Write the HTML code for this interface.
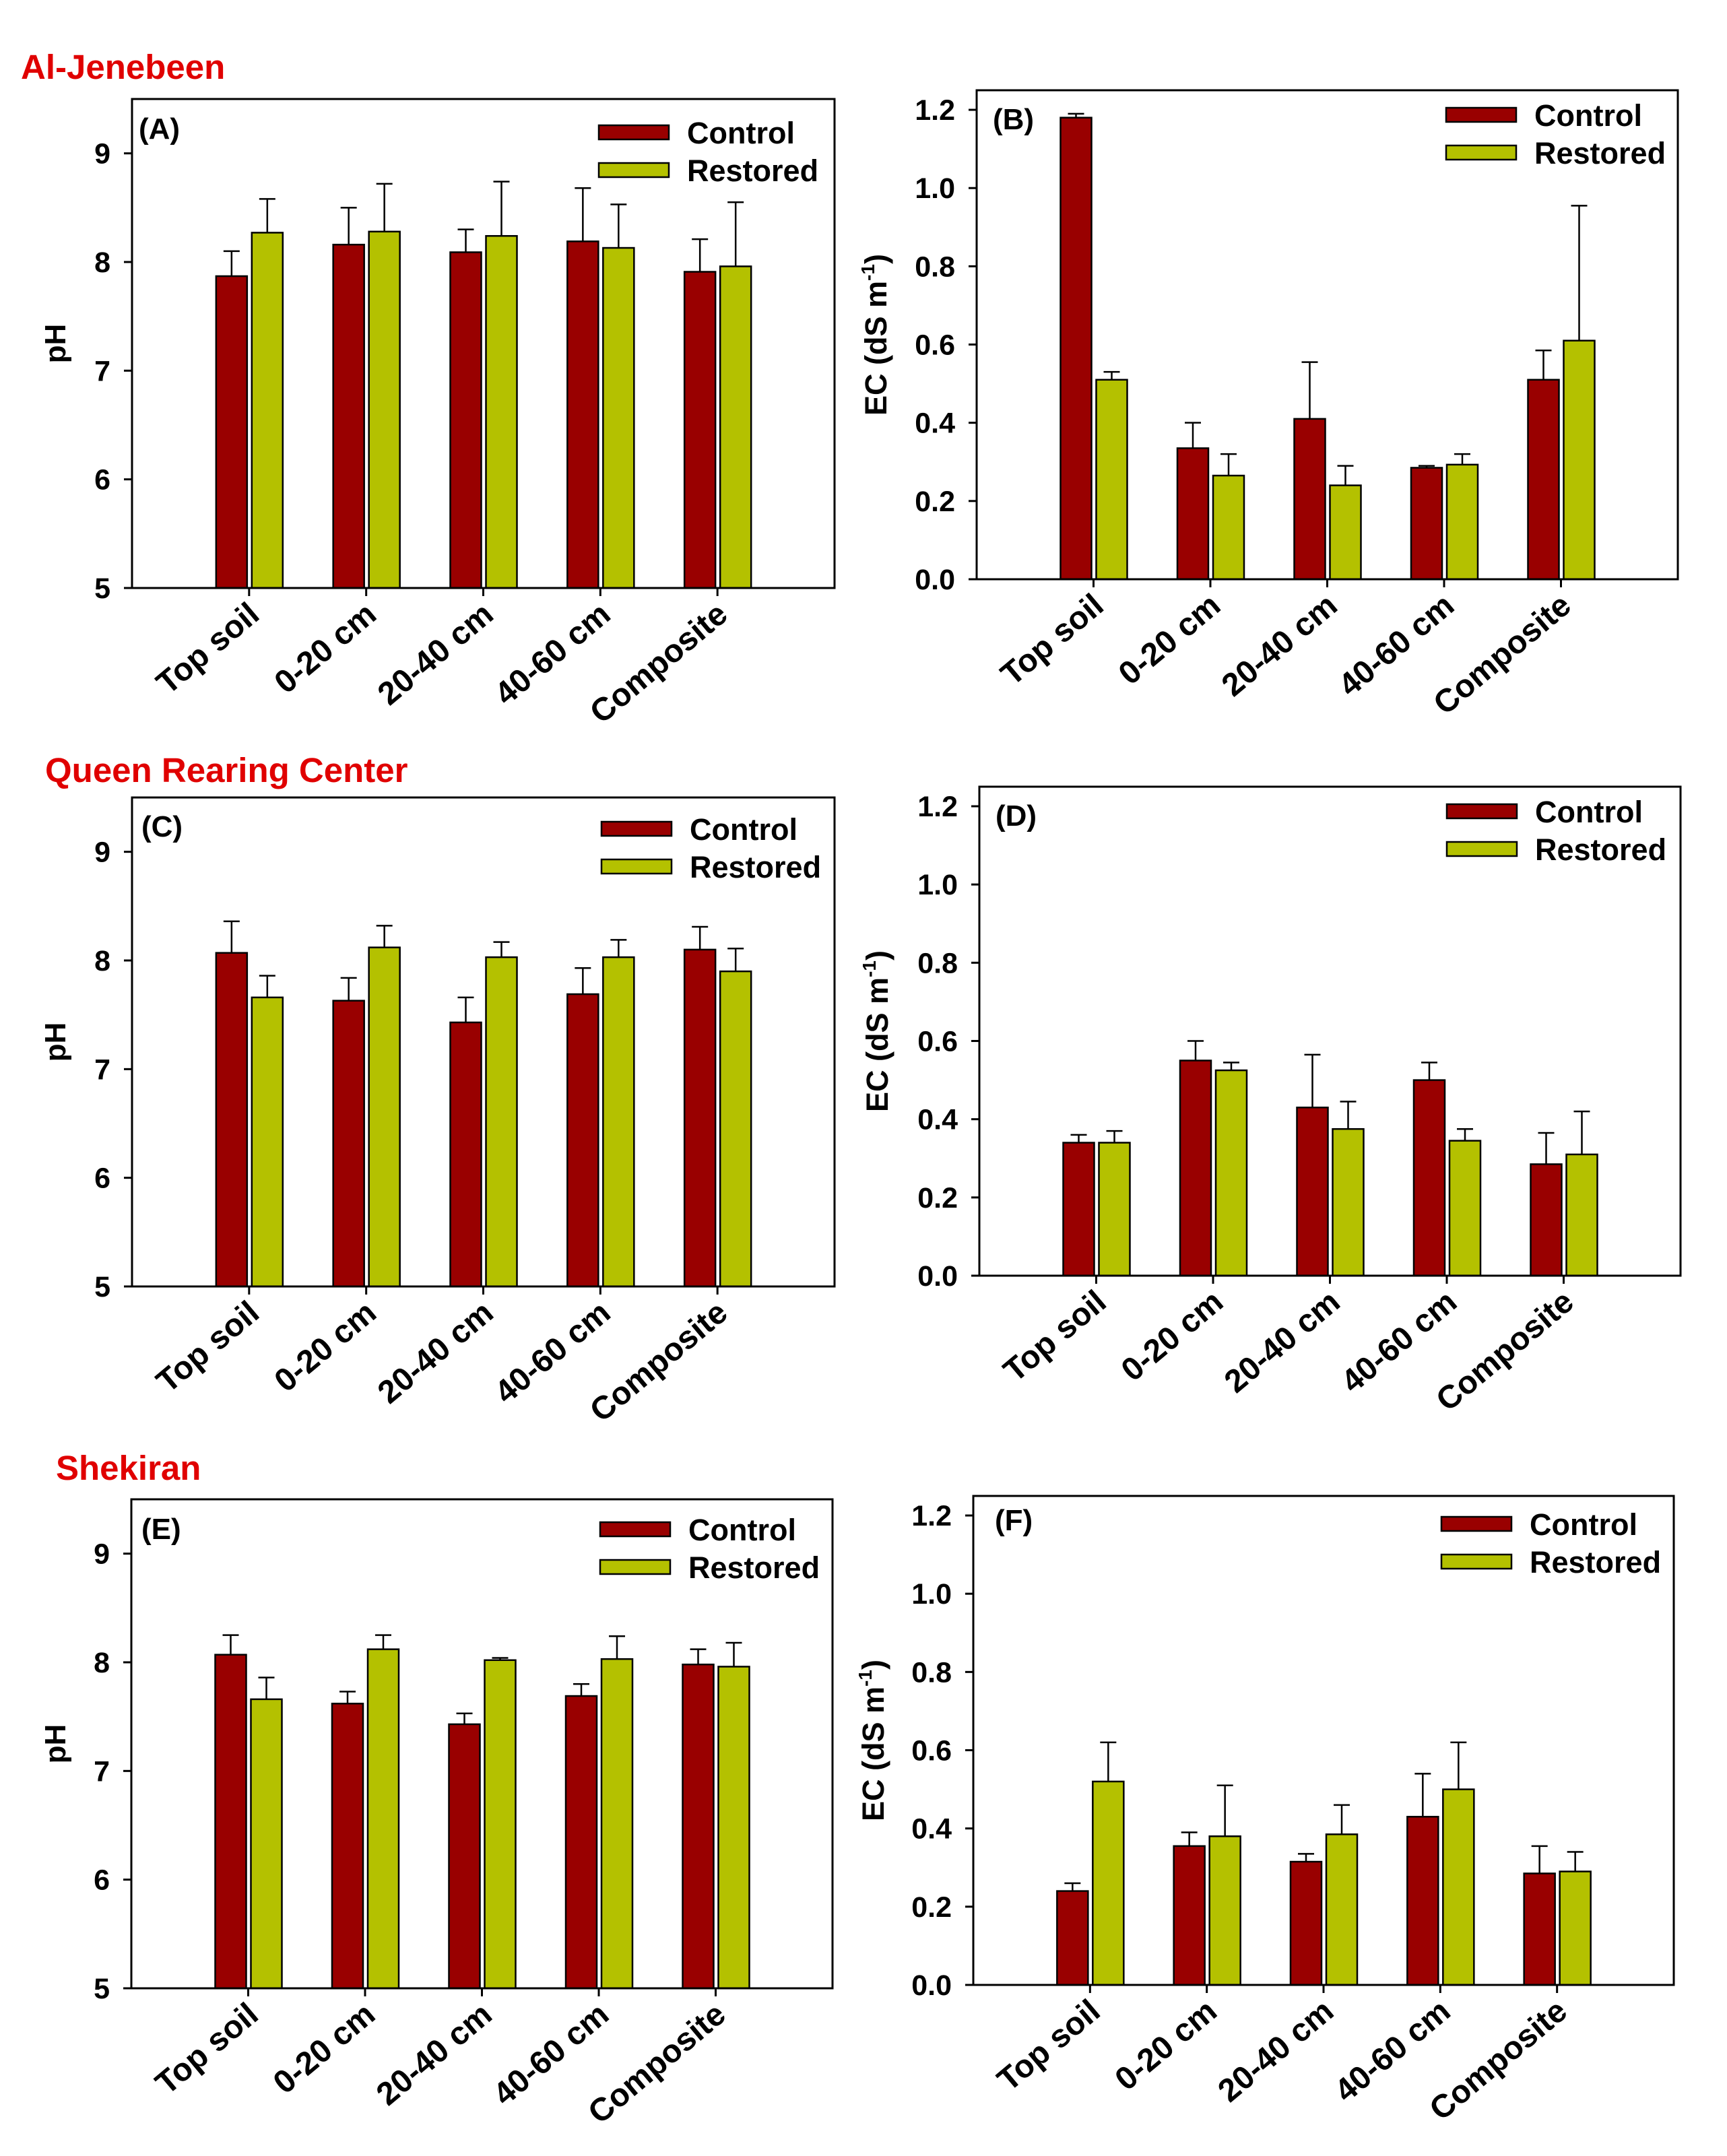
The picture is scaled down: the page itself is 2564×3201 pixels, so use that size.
<!DOCTYPE html>
<html><head><meta charset="utf-8"><style>
html,body{margin:0;padding:0;background:#fff}
svg{display:block}
text{font-family:"Liberation Sans",Arial,sans-serif;font-weight:bold}
</style></head><body>
<svg id="chart" width="2564" height="3201" viewBox="0 0 2564 3201" xmlns="http://www.w3.org/2000/svg">
<rect width="2564" height="3201" fill="#fff"/>
<text x="31" y="117" font-size="51" fill="#e00000">Al-Jenebeen</text>
<text x="67" y="1161" font-size="51" fill="#e00000">Queen Rearing Center</text>
<text x="83" y="2197" font-size="51" fill="#e00000">Shekiran</text>
</svg>
<script>
const categories = ["Top soil","0-20 cm","20-40 cm","40-60 cm","Composite"];
const phTicks = [5,6,7,8,9];
const ecTicks = ["0.0","0.2","0.4","0.6","0.8","1.0","1.2"];
// Panel A
const aControl = [7.87,8.16,8.09,8.19,7.91];
const aControlErr = [0.23,0.34,0.21,0.49,0.30];
const aRestored = [8.27,8.28,8.24,8.13,7.96];
const aRestoredErr = [0.31,0.44,0.50,0.40,0.59];
// Panel B
const bControl = [1.18,0.335,0.41,0.285,0.51];
const bControlErr = [0.01,0.065,0.145,0.005,0.075];
const bRestored = [0.51,0.265,0.24,0.293,0.61];
const bRestoredErr = [0.02,0.055,0.05,0.027,0.345];
// Panel C
const cControl = [8.07,7.63,7.43,7.69,8.10];
const cControlErr = [0.29,0.21,0.23,0.24,0.21];
const cRestored = [7.66,8.12,8.03,8.03,7.90];
const cRestoredErr = [0.20,0.20,0.14,0.16,0.21];
// Panel D
const dControl = [0.34,0.55,0.43,0.50,0.285];
const dControlErr = [0.02,0.05,0.135,0.045,0.08];
const dRestored = [0.34,0.525,0.375,0.345,0.31];
const dRestoredErr = [0.03,0.02,0.07,0.03,0.11];
// Panel E
const eControl = [8.07,7.62,7.43,7.69,7.98];
const eControlErr = [0.18,0.11,0.10,0.11,0.14];
const eRestored = [7.66,8.12,8.02,8.03,7.96];
const eRestoredErr = [0.20,0.13,0.02,0.21,0.22];
// Panel F
const fControl = [0.24,0.355,0.315,0.43,0.285];
const fControlErr = [0.02,0.035,0.02,0.11,0.07];
const fRestored = [0.52,0.38,0.385,0.50,0.29];
const fRestoredErr = [0.10,0.13,0.075,0.12,0.05];

const NS = "http://www.w3.org/2000/svg";
const svg = document.getElementById("chart");
function mk(tag, attrs, parent, txt){
  const e = document.createElementNS(NS, tag);
  for (const k in attrs) e.setAttribute(k, attrs[k]);
  if (txt !== undefined) e.textContent = txt;
  (parent || svg).appendChild(e);
  return e;
}
const RED = "#990000", GREEN = "#b4c100";

function panel(p){
  const g = mk("g", {});
  
  
  const W = p.right - p.left, H = p.bottom - p.top;
  const y = v => p.bottom - (v - p.min) / (p.max - p.min) * H;
  const xt = i => p.left + (i + 1) * W / 6;
  for (let i = 0; i < categories.length; i++){
    const series = [[p.control, p.controlErr, RED, -49, 'control'], [p.restored, p.restoredErr, GREEN, 4, 'restored']];
    for (const [vals, errs, col, off, nm] of series){
      const bx = xt(i) + off, bw = 46, cx = bx + bw / 2;
      const yt = y(vals[i]), ye = y(vals[i] + errs[i]);
      const ln = mk("line", {x1:cx, x2:cx, y1:yt, y2:ye, stroke:"#000", "stroke-width":2.5}, g);
      
      
      const cap = mk("line", {x1:cx-12, x2:cx+12, y1:ye, y2:ye, stroke:"#000", "stroke-width":2.5}, g);
      
      
      const r = mk("rect", {x:bx, y:yt, width:bw, height:p.bottom - yt, fill:col, stroke:"#000", "stroke-width":2.5}, g);
      
      
    }
  }
  const fr = mk("rect", {x:p.left, y:p.top, width:W, height:H, fill:"none", stroke:"#000", "stroke-width":3}, g);
  
  
  p.ticks.forEach(t => {
    const ty = y(parseFloat(t));
    mk("line", {x1:p.left-12, x2:p.left, y1:ty, y2:ty, stroke:"#000", "stroke-width":3}, g);
    const lab = mk("text", {x:p.left-32, y:ty+15, "font-size":43, "text-anchor":"end"}, g, String(t));
    
    
  });
  categories.forEach((c, i) => {
    const tx = xt(i);
    mk("line", {x1:tx, x2:tx, y1:p.bottom, y2:p.bottom+12, stroke:"#000", "stroke-width":3}, g);
    const ax = tx + 18, ay = p.bottom + 44;
    const lab = mk("text", {x:ax, y:ay, "font-size":48, "text-anchor":"end", transform:`rotate(-40 ${ax} ${ay})`}, g, c);
    
    
  });
  const cy = (p.top + p.bottom) / 2;
  let yl;
  if (p.ec){
    yl = mk("text", {x:p.ylx, y:cy, "font-size":45, "text-anchor":"middle", transform:`rotate(-90 ${p.ylx} ${cy})`}, g);
    mk("tspan", {}, yl, "EC (dS m");
    mk("tspan", {"font-size":28, dy:-18}, yl, "-1");
    mk("tspan", {dy:18}, yl, ")");
  } else {
    yl = mk("text", {x:p.ylx, y:cy, "font-size":44, "text-anchor":"middle", transform:`rotate(-90 ${p.ylx} ${cy})`}, g, "pH");
  }
  
  
  const pl = mk("text", {x:p.left+p.lx, y:p.top+p.ly, "font-size":44}, g, "(" + p.id + ")");
  
  
  const lg = mk("g", {}, g);
  
  
  [["Control", RED, 0], ["Restored", GREEN, 56]].forEach(([nm, col, dy]) => {
    const sy = p.top + p.lgy + dy;
    const sw = mk("rect", {x:p.right-p.lgx, y:sy, width:104, height:21, fill:col, stroke:"#000", "stroke-width":2.5}, lg);
    
    
    const tt = mk("text", {x:p.right-p.lgx+131, y:sy+27, "font-size":45}, lg, nm);
    
    
  });
}

panel({id:"A", left:196, top:147, right:1239, bottom:873, min:5, max:9.5, ticks:phTicks, control:aControl, controlErr:aControlErr, restored:aRestored, restoredErr:aRestoredErr, ylx:97, lx:10, ly:59, lgx:350, lgy:39});
panel({id:"B", left:1450, top:134, right:2491, bottom:860, min:0, max:1.25, ticks:ecTicks, ec:true, control:bControl, controlErr:bControlErr, restored:bRestored, restoredErr:bRestoredErr, ylx:1316, lx:24, ly:58, lgx:344, lgy:26});
panel({id:"C", left:196, top:1184, right:1239, bottom:1910, min:5, max:9.5, ticks:phTicks, control:cControl, controlErr:cControlErr, restored:cRestored, restoredErr:cRestoredErr, ylx:97, lx:14, ly:58, lgx:346, lgy:36});
panel({id:"D", left:1454, top:1168, right:2495, bottom:1894, min:0, max:1.25, ticks:ecTicks, ec:true, control:dControl, controlErr:dControlErr, restored:dRestored, restoredErr:dRestoredErr, ylx:1318, lx:24, ly:58, lgx:347, lgy:26});
panel({id:"E", left:195, top:2226, right:1236, bottom:2952, min:5, max:9.5, ticks:phTicks, control:eControl, controlErr:eControlErr, restored:eRestored, restoredErr:eRestoredErr, ylx:97, lx:15, ly:59, lgx:345, lgy:34});
panel({id:"F", left:1445, top:2221, right:2485, bottom:2947, min:0, max:1.25, ticks:ecTicks, ec:true, control:fControl, controlErr:fControlErr, restored:fRestored, restoredErr:fRestoredErr, ylx:1312, lx:32, ly:51, lgx:345, lgy:31});
</script>
</body></html>
